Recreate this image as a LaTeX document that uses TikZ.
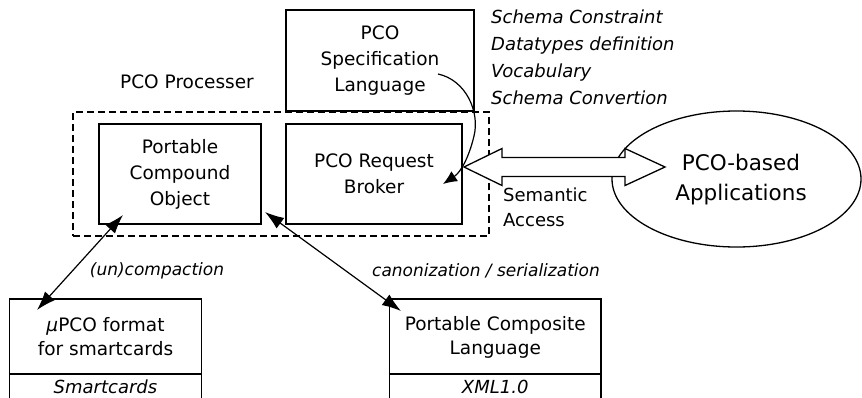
\documentclass[tikz,border=0pt]{standalone}
\usepackage{fontspec}
\setmainfont{DejaVu Sans}
\usetikzlibrary{arrows.meta,shapes.geometric}
\begin{document}
\begin{tikzpicture}[x=1pt,y=-1pt,
  box/.style={draw, line width=1.5pt, inner sep=0pt, align=center, font=\fontsize{18.5}{26}\selectfont},
  txt/.style={inner sep=0pt, align=center, font=\fontsize{18.5}{24}\selectfont},
  itxt/.style={inner sep=0pt, font=\fontsize{18}{27}\selectfont\itshape},
  lbl/.style={inner sep=0pt, font=\fontsize{17}{20}\selectfont\itshape},
  conn/.style={line width=1.2pt, {Latex[length=19pt,width=13pt]}-{Latex[length=19pt,width=13pt]}},
  fat/.style={draw, line width=1.3pt, fill=white}]
\useasboundingbox (0,0) rectangle (862,397);
\clip (0,0) rectangle (862,397);

% dashed processor frame
\node[draw, dash pattern=on 7pt off 4pt, line width=1.3pt, minimum width=416pt, minimum height=124pt, inner sep=0pt] (proc) at (281,174) {};
\node[txt] (proclbl) at (187,82) {PCO Processer};

% boxes
\node[box, minimum width=188pt, minimum height=101pt] (spec) at (380,60.5) {PCO\\Specification\\Language};
\node[box, minimum width=162pt, minimum height=100pt] (pco) at (180,174) {Portable\\Compound\\Object};
\node[box, minimum width=176pt, minimum height=100pt] (broker) at (374,174) {PCO Request\\Broker};

% italic list
\node[itxt, anchor=west, align=left] (list) at (491,57.5) {Schema Constraint\\Datatypes definition\\Vocabulary\\Schema Convertion};

% ellipse
\node[draw, ellipse, line width=1.3pt, minimum width=249pt, minimum height=136pt, inner sep=0pt] (apps) at (736.5,179) {};
\node[inner sep=0pt, align=center, font=\fontsize{21.5}{30}\selectfont] (appstxt) at (741,180) {PCO-based\\Applications};

% fat double arrow (semantic access)
\draw[fat] (464,167) -- (502,148.5) -- (502,157.5) -- (625,157.5) -- (625,148.5) -- (665,167)
  -- (625,185.5) -- (625,176.5) -- (502,176.5) -- (502,185.5) -- cycle;
\node[inner sep=0pt, anchor=west, align=left, font=\fontsize{18}{25}\selectfont] (sem) at (503,207.5) {Semantic\\Access};

% curved arrow from specification to broker
\coordinate (cs) at (438,74);
\coordinate (ce) at (443,184);
\draw[line width=1.2pt, -{Latex[length=14pt,width=12pt]}] (cs) .. controls (466,80) and (480,112) .. (474,136) .. controls (469,157) and (461,172) .. (ce);

% bottom boxes
\node[draw, line width=1.5pt, minimum width=192pt, minimum height=121pt, inner sep=0pt] (upco) at (105.5,359.5) {};
\draw[line width=1.5pt] (upco.west |- 0,374) -- (upco.east |- 0,374);
\node[txt] (upcotxt) at (105.5,337) {\textit{μ}PCO format\\for smartcards};
\node[itxt] (upcoplat) at (105.5,386.5) {Smartcards};

\node[draw, line width=1.5pt, minimum width=211.5pt, minimum height=121pt, inner sep=0pt] (pcl) at (495.25,359.5) {};
\draw[line width=1.5pt] (pcl.west |- 0,374) -- (pcl.east |- 0,374);
\node[txt] (pcltxt) at (495.25,337) {Portable Composite\\Language};
\node[itxt] (pclplat) at (495.25,386.5) {XML1.0};

% connectors
\coordinate (a1) at (123,215);
\coordinate (a2) at (37,310);
\coordinate (b1) at (265,212);
\coordinate (b2) at (401,311);
\draw[conn] (a1) -- (a2);
\draw[conn] (b1) -- (b2);
\node[lbl] (l1) at (157,271) {(un)compaction};
\node[lbl] (l2) at (486,271) {canonization / serialization};
\end{tikzpicture}
\end{document}
